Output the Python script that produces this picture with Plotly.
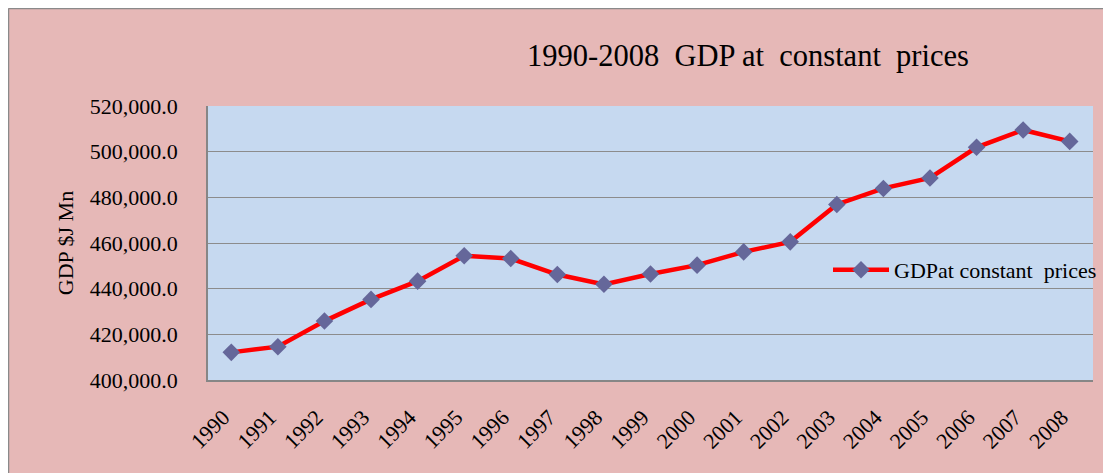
import plotly.graph_objects as go

years = [str(y) for y in range(1990, 2009)]
gdp = [412100, 414600, 425800, 435300, 443300, 454400, 453200, 446200, 441900,
       446400, 450300, 456100, 460500, 476900, 483900, 488500, 501900, 509500, 504500]
y_ticks = [400000, 420000, 440000, 460000, 480000, 500000, 520000]

PINK = '#E6B8B7'
PLOT_BG = '#C6D9F0'
SERIF = 'Liberation Serif'

# figure pixel layout (page has 8px body margin; plot area 200..1085 x 98..372)
W, H = 1111, 473
L, R, T, B = 200, 26, 98, 101
pw, ph = W - L - R, H - T - B

def px(x):
    return (x - L) / pw

def py(y):
    return (H - B - y) / ph

fig = go.Figure()
fig.add_trace(go.Scatter(
    x=years, y=gdp, mode='lines+markers',
    name='GDPat constant\u00a0\u00a0prices',
    line=dict(color='#FF0000', width=4.5),
    marker=dict(symbol='diamond', size=13.5, color='#65679A'),
))

fig.update_layout(
    width=W, height=H,
    margin=dict(l=L, r=R, t=T, b=B, autoexpand=False),
    paper_bgcolor=PINK,
    plot_bgcolor=PLOT_BG,
    font=dict(family=SERIF, color='black'),
    title=dict(text='1990-2008\u00a0\u00a0GDP at\u00a0\u00a0constant\u00a0\u00a0prices',
               font=dict(size=30.5, family=SERIF, color='black'),
               x=740 / W, xanchor='center', xref='container',
               y=1 - 47 / H, yanchor='middle', yref='container'),
    showlegend=True,
    legend=dict(x=px(820), xanchor='left', y=py(262), yanchor='middle',
                bgcolor='rgba(0,0,0,0)', borderwidth=0, itemwidth=56,
                font=dict(size=22, family=SERIF, color='black')),
    xaxis=dict(type='category', range=[-0.5, 18.5], showgrid=False,
               showline=True, linecolor='#868686', linewidth=1.5,
               ticks='', tickangle=-45, tickfont=dict(size=22),
               ticklabelstandoff=14, ticklabelshift=-8,
               fixedrange=True),
    yaxis=dict(range=[400000, 520000], tickvals=y_ticks, tickformat=',.1f',
               showgrid=True, gridcolor='#8C8C8C', gridwidth=1,
               showline=True, linecolor='#868686', linewidth=1.5,
               zeroline=False, ticks='', ticklabelstandoff=24,
               tickfont=dict(size=22),
               title=dict(text='GDP $J Mn', font=dict(size=22), standoff=10)),
    shapes=[
        # legend patch hiding the gridline behind the legend, inside the plot area only
        dict(type='rect', xref='paper', yref='paper', x0=px(819), x1=1,
             y0=py(292), y1=py(248), fillcolor=PLOT_BG, line=dict(width=0), layer='between'),
        dict(type='line', xref='paper', yref='paper', x0=px(0.5), x1=px(0.5),
             y0=py(H), y1=py(0.5), line=dict(color='#8A8A8A', width=1.5), layer='below'),
        dict(type='line', xref='paper', yref='paper', x0=px(0.5), x1=px(W),
             y0=py(0.5), y1=py(0.5), line=dict(color='#8A8A8A', width=1.5), layer='below'),
    ],
)

fig.write_html('out.html')
